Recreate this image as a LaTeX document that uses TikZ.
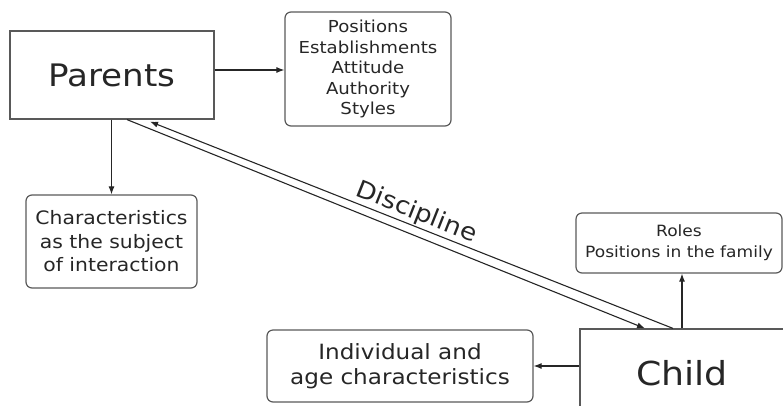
\documentclass[tikz,border=0pt]{standalone}
\usepackage{fontspec}
\setmainfont{DejaVu Sans}[FakeStretch=1.1]
\usetikzlibrary{arrows.meta}

\begin{document}
\begin{tikzpicture}[x=1pt, y=-1pt,
    box/.style = {draw=black!65, line width=1.2pt, align=center, inner sep=0pt, text=black!85},
    rbox/.style = {box, rounded corners=6pt},
    arr/.style = {-{Latex[length=8pt, width=6pt]}, line width=1.1pt, black!85}]

    \clip (0, 0) rectangle (783, 405);

    \node[box, minimum width=204, minimum height=88, font=\fontsize{31}{34}\selectfont] (parents) at (112, 75) {Parents};
    \node[rbox, minimum width=166, minimum height=114, font=\fontsize{16.5}{20.5}\selectfont] (positions) at (368, 69) {Positions\\Establishments\\Attitude\\Authority\\Styles};
    \node[rbox, minimum width=171, minimum height=93, font=\fontsize{18.5}{23.5}\selectfont] (traits) at (111.5, 241.5) {Characteristics\\as the subject\\of interaction};

    \node[box, minimum width=204, minimum height=88, font=\fontsize{33}{36}\selectfont] (child) at (682, 373) {Child};
    \node[rbox, minimum width=206, minimum height=60, font=\fontsize{15.5}{21}\selectfont] (roles) at (679, 243) {Roles\\Positions in the family};
    \node[rbox, minimum width=266, minimum height=72, font=\fontsize{21}{25}\selectfont] (age) at (400, 366) {Individual and\\age characteristics};

    \coordinate (pa) at ([xshift=15pt]parents.south);
    \coordinate (pb) at ([xshift=38pt, yshift=-2pt]parents.south);
    \coordinate (ca) at ([xshift=-37pt]child.north);
    \coordinate (cb) at ([xshift=-9pt]child.north);

    \draw[arr] ([yshift=5pt]parents.east) -- ([yshift=5pt]parents.east -| positions.west);
    \draw[arr] (traits.north |- parents.south) -- (traits.north);
    \draw[arr] (child.north) -- (child.north |- roles.south);
    \draw[arr] (child.west |- age.east) -- (age.east);

    \draw[arr] (pa) -- (ca);
    \draw[arr] (cb) -- (pb) node[pos=0.5, above=0pt, inner sep=1pt, sloped, text=black!85, font=\fontsize{24}{28}\selectfont] {Discipline};

\end{tikzpicture}
\end{document}
